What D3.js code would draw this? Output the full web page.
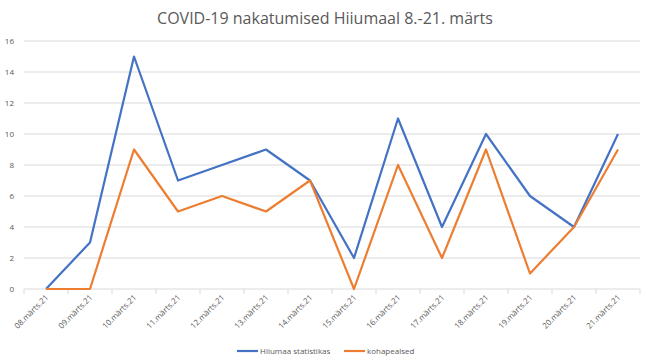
<!DOCTYPE html>
<html>
<head>
<meta charset="utf-8">
<script src="https://cdn.jsdelivr.net/npm/d3@7"></script>
<style>
  body { margin: 0; background: #fff; }
  text { font-family: "Open Sans", "Liberation Sans", sans-serif; }
</style>
</head>
<body>
<div id="container"></div>
<script>
let w = 650;
let h = 363;

// data
let days = ["08.märts.21", "09.märts.21", "10.märts.21", "11.märts.21", "12.märts.21", "13.märts.21", "14.märts.21",
            "15.märts.21", "16.märts.21", "17.märts.21", "18.märts.21", "19.märts.21", "20.märts.21", "21.märts.21"];
let hiiumaa = [0, 3, 15, 7, 8, 9, 7, 2, 11, 4, 10, 6, 4, 10];
let kohapealsed = [0, 0, 9, 5, 6, 5, 7, 0, 8, 2, 9, 1, 4, 9];
let yTicks = [0, 2, 4, 6, 8, 10, 12, 14, 16];
let seriesNames = ["Hiiumaa statistikas", "kohapealsed"];
let colors = ["#4472c4", "#ed7d31"];

let viz = d3.select("#container")
  .append("svg")
    .attr("width", w)
    .attr("height", h);

viz.append("rect").attr("width", w).attr("height", h).attr("fill", "#fff");

// title
viz.append("text")
  .attr("x", 325).attr("y", 24)
  .attr("text-anchor", "middle")
  .attr("font-size", 16)
  .attr("fill", "#595959")
  .text("COVID-19 nakatumised Hiiumaal 8.-21. märts");

let xScale = d3.scaleBand().domain(days).range([24, 640]);
let yScale = d3.scaleLinear().domain([0, 16]).range([289, 41]);

// gridlines
viz.append("g")
  .selectAll("line")
  .data(yTicks)
  .join("line")
    .attr("x1", 24).attr("x2", 640)
    .attr("y1", d => yScale(d)).attr("y2", d => yScale(d))
    .attr("stroke", "#d9d9d9").attr("stroke-width", 1);

// y labels
viz.append("g")
  .selectAll("text")
  .data(yTicks)
  .join("text")
    .attr("x", 14)
    .attr("y", d => yScale(d) + 3)
    .attr("text-anchor", "end")
    .attr("font-size", 8)
    .attr("fill", "#595959")
    .text(d => d);

// x axis ticks at band boundaries
let bounds = days.map(d => xScale(d)).concat([640]);
viz.append("g")
  .selectAll("line")
  .data(bounds)
  .join("line")
    .attr("x1", d => d).attr("x2", d => d)
    .attr("y1", 289).attr("y2", 294)
    .attr("stroke", "#d9d9d9");

// x labels
viz.append("g")
  .selectAll("text")
  .data(days)
  .join("text")
    .attr("transform", d => "translate(" + (xScale(d) + xScale.bandwidth() / 2 + 3) + ",298) rotate(-45)")
    .attr("text-anchor", "end")
    .attr("font-size", 8)
    .attr("fill", "#595959")
    .text(d => d);

// lines
let line = d3.line()
  .x((d, i) => xScale(days[i]) + xScale.bandwidth() / 2)
  .y(d => yScale(d));

[hiiumaa, kohapealsed].forEach((s, k) => {
  viz.append("path")
    .datum(s)
    .attr("d", line)
    .attr("fill", "none")
    .attr("stroke", colors[k])
    .attr("stroke-width", 2.2)
    .attr("stroke-linejoin", "round");
});

// legend
let legendX = [237, 344];
seriesNames.forEach((name, k) => {
  let g = viz.append("g").attr("transform", "translate(" + legendX[k] + ",351)");
  g.append("line").attr("x1", 0).attr("x2", 21).attr("y1", 0).attr("y2", 0)
    .attr("stroke", colors[k]).attr("stroke-width", 2.2);
  g.append("text").attr("x", 23).attr("y", 3)
    .attr("font-size", 8).attr("fill", "#595959").text(name);
});
</script>
</body>
</html>
